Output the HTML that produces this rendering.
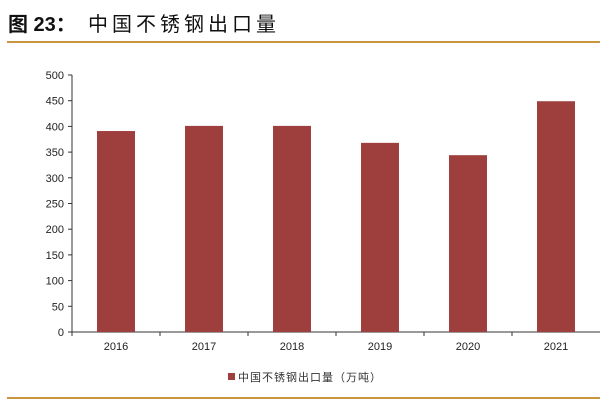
<!DOCTYPE html>
<html><head><meta charset="utf-8"><style>
body{margin:0;width:600px;height:400px;background:#fff;overflow:hidden;font-family:"Liberation Sans","Noto Sans CJK SC",sans-serif}
</style></head><body>
<svg width="600" height="400">
<text x="8" y="31" font-size="20" font-weight="bold" fill="#111" font-family="Liberation Sans, Noto Sans CJK SC, sans-serif">图 23：<tspan x="88" letter-spacing="4" font-weight="normal">中国不锈钢出口量</tspan></text>
<rect x="7" y="41" width="593" height="2" fill="#c8963e"/>
<rect x="7" y="397" width="593" height="2" fill="#c8963e"/>
<g id="plot"></g>
<g>
<rect x="228" y="373" width="7" height="7" fill="#9e3f3d"/>
<text x="238" y="381" font-size="11" letter-spacing="1" fill="#333">中国不锈钢出口量（万吨）</text>
</g>
</svg>
<script>
const categories=["2016","2017","2018","2019","2020","2021"];
const values=[391,401,401,368,344,449];
const yTicks=[0,50,100,150,200,250,300,350,400,450,500];
const NS="http://www.w3.org/2000/svg";
const g=document.getElementById("plot");
const x0=72,x1=600,yB=332,yT=75,yMax=500;
const band=(x1-x0)/categories.length;
const y=v=>yB-(v/yMax)*(yB-yT);
function mk(t,a){const e=document.createElementNS(NS,t);for(const k in a)e.setAttribute(k,a[k]);g.appendChild(e);return e;}
let ax=mk("line",{x1:x0,y1:yT,x2:x0,y2:yB,stroke:"#333"});


let bx=mk("line",{x1:x0,y1:yB,x2:x1,y2:yB,stroke:"#333"});


yTicks.forEach(v=>{
 let t=mk("line",{x1:x0-4,y1:y(v),x2:x0,y2:y(v),stroke:"#333"});
 
 
 let l=mk("text",{x:x0-8,y:y(v)+4,"font-size":11,"text-anchor":"end",fill:"#222"});
 l.textContent=v;
 
 
});
categories.forEach((c,i)=>{
 let t=mk("line",{x1:x0+band*i,y1:yB,x2:x0+band*i,y2:yB+4,stroke:"#333"});
 
 
 const cx=x0+band*(i+0.5);
 let b=mk("rect",{x:cx-19,y:y(values[i]),width:38,height:yB-y(values[i]),fill:"#9e3f3d"});
 
 
 let l=mk("text",{x:cx,y:yB+18,"font-size":11,"text-anchor":"middle",fill:"#222"});
 l.textContent=c;
 
 
});
</script>
</body></html>
